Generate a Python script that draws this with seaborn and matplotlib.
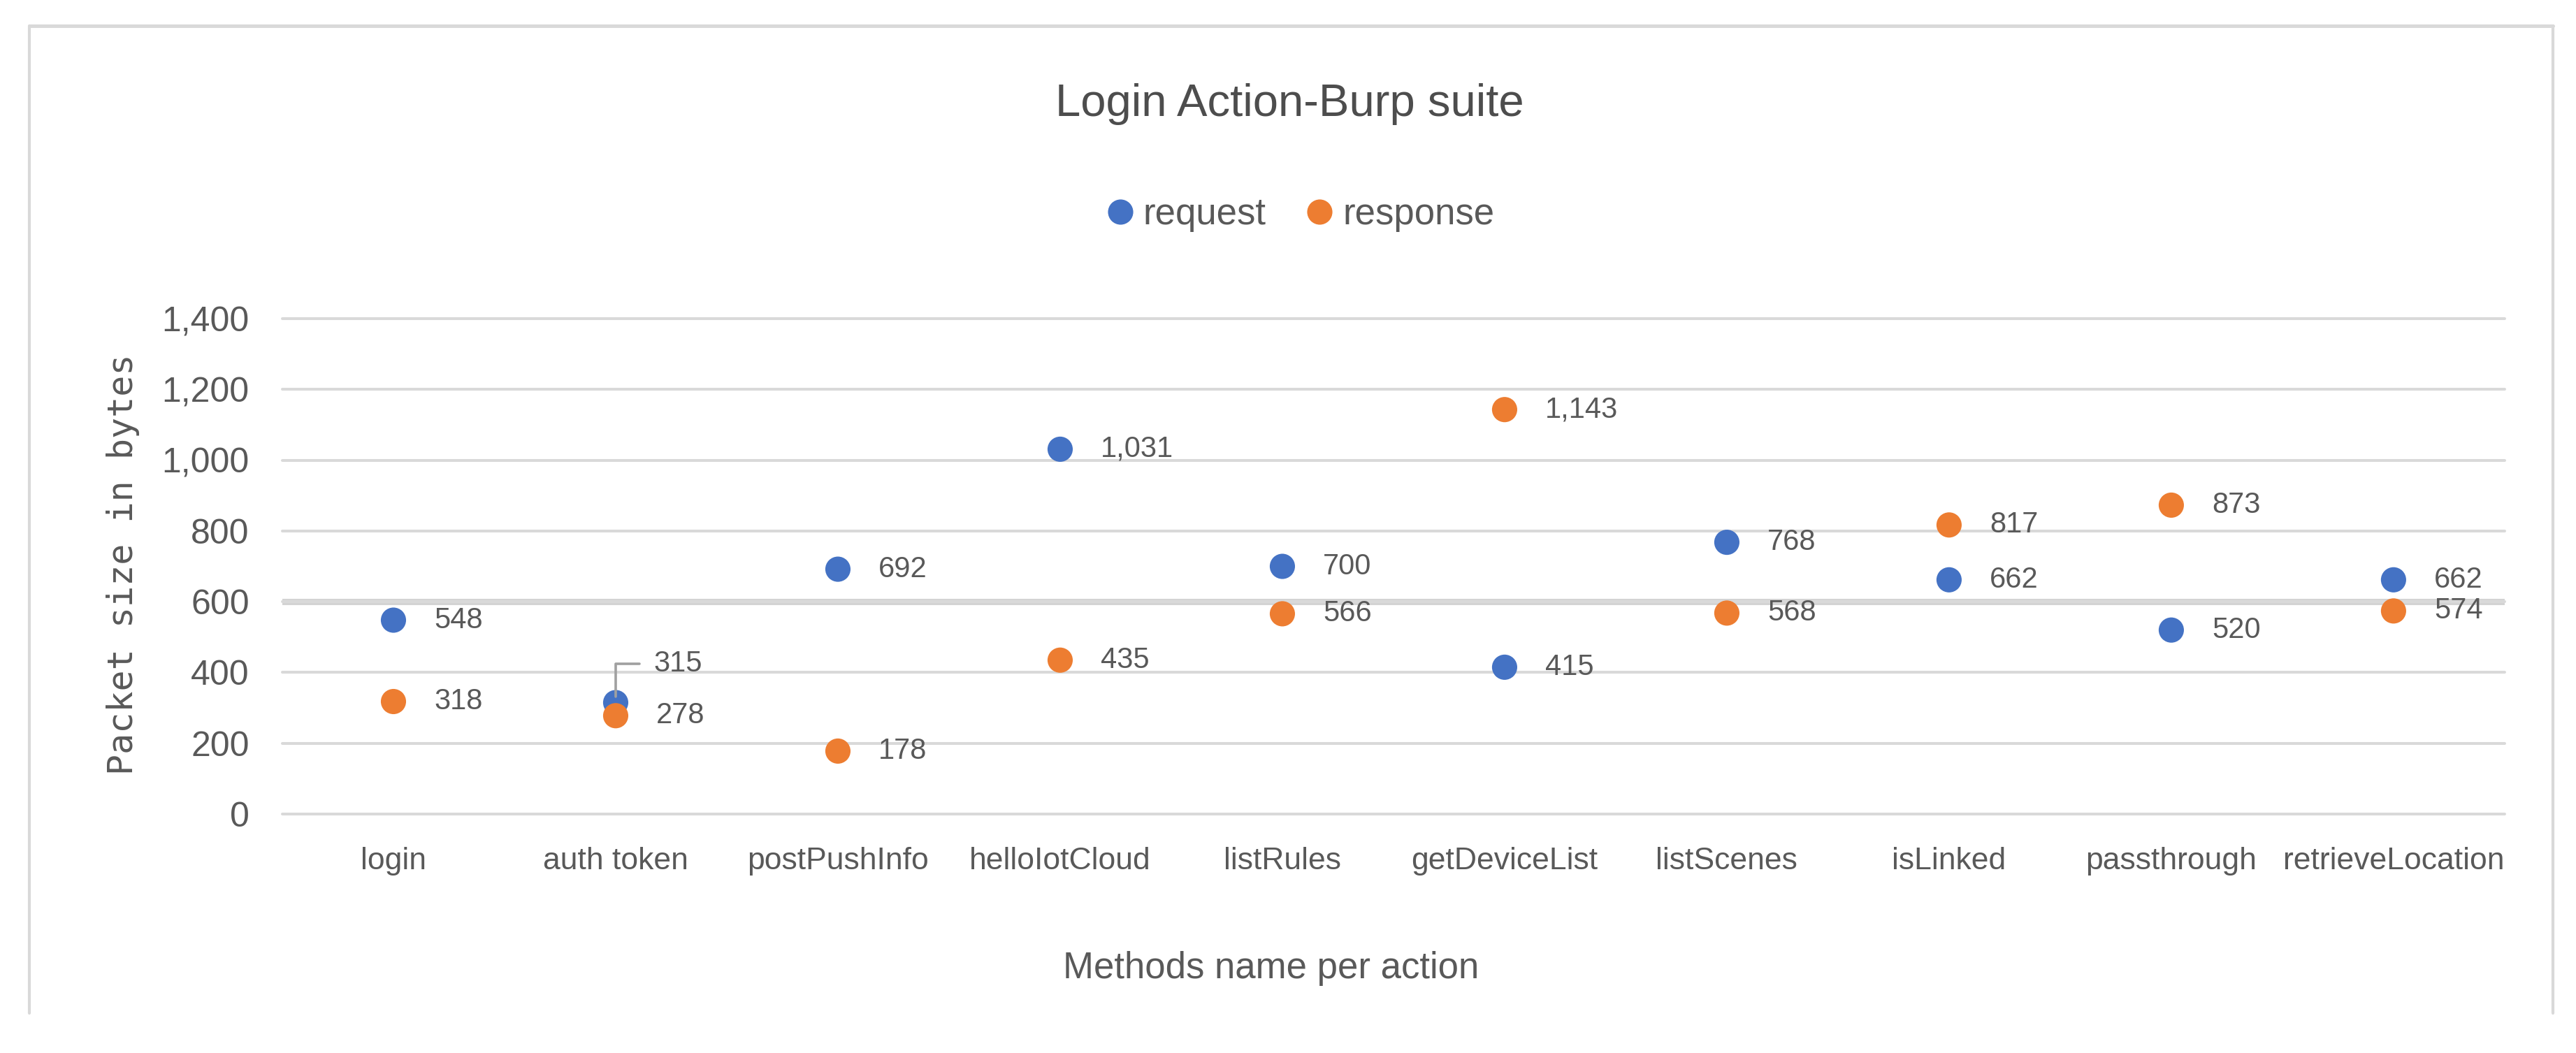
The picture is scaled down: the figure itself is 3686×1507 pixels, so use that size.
import numpy as np
import pandas as pd
import matplotlib
matplotlib.use('Agg')
import matplotlib.pyplot as plt
from matplotlib.lines import Line2D
from matplotlib.ticker import FuncFormatter
import seaborn as sns

# 数据
methods = ['login', 'auth token', 'postPushInfo', 'helloIotCloud', 'listRules',
           'getDeviceList', 'listScenes', 'isLinked', 'passthrough', 'retrieveLocation']
request_bytes = [548, 315, 692, 1031, 700, 415, 768, 662, 520, 662]
response_bytes = [318, 278, 178, 435, 566, 1143, 568, 817, 873, 574]
series_names = ['request', 'response']
series_colors = ['#4472C4', '#ED7D31']
y_ticks = list(range(0, 1401, 200))

TEXT_GRAY = '#595959'
GRID_GRAY = '#d9d9d9'

sns.set_theme(style='white')
plt.rcParams['font.family'] = ['Liberation Sans', 'DejaVu Sans']

df = pd.DataFrame({
    'method': methods * 2,
    'bytes': request_bytes + response_bytes,
    'series': [series_names[0]] * len(methods) + [series_names[1]] * len(methods),
})

fig = plt.figure(figsize=(36.86, 15.07), dpi=100)
ax = fig.add_axes([0.1096, 0.2269, 0.8627, 0.4705])

sns.stripplot(data=df, x='method', y='bytes', hue='series',
              palette=dict(zip(series_names, series_colors)),
              jitter=False, dodge=False, size=26, linewidth=0,
              legend=False, ax=ax, zorder=3)

ax.set_ylim(0, 1400)
ax.set_xlim(-0.5, len(methods) - 0.5)
ax.set_yticks(y_ticks)
ax.yaxis.set_major_formatter(FuncFormatter(lambda v, p: f'{int(v):,}'))
ax.yaxis.grid(True, color=GRID_GRAY, linewidth=2.9)
ax.xaxis.grid(False)
ax.set_axisbelow(True)
for gl in ax.get_ygridlines():
    gl.set_clip_on(False)
# 600 那条线在原图里更粗
ax.axhline(600, color='#d3d3d3', linewidth=6.5, zorder=0.5)

for s in ax.spines.values():
    s.set_visible(False)
ax.tick_params(axis='y', length=0, pad=34, labelsize=36, labelcolor=TEXT_GRAY)
ax.tick_params(axis='x', length=0, pad=34, labelsize=32, labelcolor=TEXT_GRAY)
ax.set_xlabel('')
ax.set_ylabel('')

# 数据标签
for series, values in zip(series_names, [request_bytes, response_bytes]):
    for i, v in enumerate(values):
        if series == 'request' and methods[i] == 'auth token':
            ax.annotate(f'{v:,}', xy=(i, v), xytext=(39, 40), textcoords='offset points',
                        ha='left', va='center', fontsize=30, color=TEXT_GRAY, zorder=4,
                        arrowprops=dict(arrowstyle='-', color='#a0a0a0', lw=2.6,
                                        shrinkA=12, shrinkB=6, relpos=(0, 0.5),
                                        connectionstyle='angle,angleA=0,angleB=90,rad=0'))
        else:
            ax.annotate(f'{v:,}', xy=(i, v), xytext=(42, 0), textcoords='offset points',
                        ha='left', va='center', fontsize=30, color=TEXT_GRAY)

# 标题 / 轴标题
fig.text(0.5006, 0.8898, 'Login Action-Burp suite', ha='center', va='baseline',
         fontsize=47, color='#4d4d4d')
fig.text(0.4935, 0.0710, 'Methods name per action', ha='center', va='baseline',
         fontsize=38, color=TEXT_GRAY)
fig.text(0.0477, 0.4638, 'Packet size in bytes', ha='center', va='center', rotation=90,
         fontsize=36, color=TEXT_GRAY, family='DejaVu Sans Mono')

# 图例
handles = [Line2D([], [], marker='o', linestyle='', color=c, markersize=26, markeredgewidth=0)
           for c in series_colors]
fig.legend(handles, series_names, loc='center', bbox_to_anchor=(0.505, 0.796), ncol=2,
           frameon=False, fontsize=38, labelcolor=TEXT_GRAY, handlelength=0.7,
           handletextpad=0.28, columnspacing=1.1)

# 外框
frame_kw = dict(color=GRID_GRAY, transform=fig.transFigure)
fig.add_artist(Line2D([0.0114, 0.991], [0.9754, 0.9754], linewidth=3.6, **frame_kw))
fig.add_artist(Line2D([0.0114, 0.0114], [0.9754, 0.0378], linewidth=3.0, **frame_kw))
fig.add_artist(Line2D([0.991, 0.991], [0.9754, 0.0378], linewidth=3.0, **frame_kw))

fig.savefig('out.png', dpi=100, facecolor='white')
